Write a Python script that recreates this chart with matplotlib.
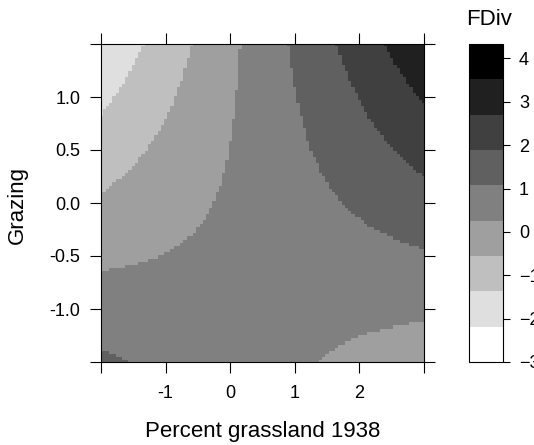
import numpy as np
import matplotlib
matplotlib.use("Agg")
import matplotlib.pyplot as plt
from matplotlib.colors import ListedColormap, BoundaryNorm

plt.rcParams['font.family'] = ['Liberation Sans', 'DejaVu Sans']

# ---- data (fitted response surface FDiv ~ grassland * grazing) ----
coef_intercept = 0.3657
coef_grass = 0.4080
coef_grazing = -0.1835
coef_interaction = 0.4581

grass_values = np.linspace(-2, 3, 101)       # Percent grassland 1938 (scaled)
grazing_values = np.linspace(-1.5, 1.5, 101)  # Grazing (scaled)

level_min = -3.0
level_max = 4.3333
n_regions = 9
level_breaks = np.linspace(level_min, level_max, n_regions + 1)
region_grays = np.linspace(1.0, 0.0, n_regions)

x_ticks = [-2, -1, 0, 1, 2, 3]
x_ticklabels = ['', '-1', '0', '1', '2', '']
y_ticks = [-1.5, -1.0, -0.5, 0.0, 0.5, 1.0, 1.5]
y_ticklabels = ['', '-1.0', '-0.5', '0.0', '0.5', '1.0', '']
cbar_ticks = [-3, -2, -1, 0, 1, 2, 3, 4]

# ---- surface ----
GX, GY = np.meshgrid(grass_values, grazing_values)
FDIV = (coef_intercept + coef_grass * GX + coef_grazing * GY
        + coef_interaction * GX * GY)

cmap = ListedColormap([(g, g, g) for g in region_grays])
norm = BoundaryNorm(level_breaks, n_regions)

W, H = 534, 445
fig = plt.figure(figsize=(W / 100, H / 100), dpi=100)

def frac(l, t, r, b):
    return [l / W, 1 - b / H, (r - l) / W, (b - t) / H]

ax = fig.add_axes(frac(101, 44, 424, 362))
mesh = ax.pcolormesh(grass_values, grazing_values, FDIV, cmap=cmap, norm=norm,
                     shading='nearest', antialiased=False, linewidth=0)
ax.set_xlim(-2, 3)
ax.set_ylim(-1.5, 1.5)
ax.set_xticks(x_ticks)
ax.set_xticklabels(x_ticklabels)
ax.set_yticks(y_ticks)
ax.set_yticklabels(y_ticklabels)
ax.tick_params(direction='out', length=7.8, width=0.8, color='black',
               top=True, right=True, labelsize=13, labelcolor='black')
ax.tick_params(axis='x', pad=8.5)
ax.tick_params(axis='y', pad=7.2)
for s in ax.spines.values():
    s.set_linewidth(0.8)
    s.set_color('black')

fig.text(262.5 / W, 1 - 436.7 / H, 'Percent grassland 1938', ha='center',
         va='baseline', fontsize=16)
fig.text(17.1 / W, 1 - 205 / H, 'Grazing', ha='center', va='center',
         rotation=90, fontsize=16)

# ---- colour key ----
cax = fig.add_axes(frac(469, 44, 503, 362))
cb = fig.colorbar(mesh, cax=cax, ticks=cbar_ticks, spacing='proportional')
cb.outline.set_linewidth(0.8)
cb.outline.set_edgecolor('black')
cax.minorticks_off()
cax.tick_params(which='minor', length=0)
cax.tick_params(which='major', direction='out', length=5, width=0.8,
                labelsize=13, pad=6.5)
cax.set_ylim(level_min, level_max)
fig.text(489 / W, 1 - 25 / H, 'FDiv', ha='center', va='baseline', fontsize=16)

fig.savefig('out.png', dpi=100)
